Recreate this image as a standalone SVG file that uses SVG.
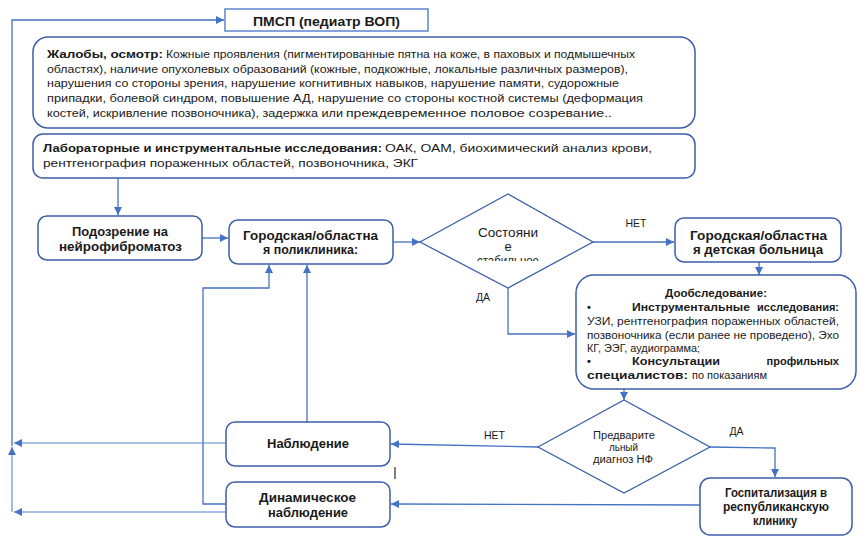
<svg xmlns="http://www.w3.org/2000/svg" width="861" height="548" viewBox="0 0 861 548">
<style>
.box{fill:#fff;stroke:#3D5FA8;stroke-width:1.5}
.c{fill:none;stroke:#4472C4;stroke-width:1.3}
.cl{fill:none;stroke:#8EAADB;stroke-width:1.6}
.t{font-family:"Liberation Sans",Arial,sans-serif;fill:#1a1a1a}
.b{font-weight:bold}
.ttl{font-family:"Liberation Sans",Arial,sans-serif;font-weight:bold;font-size:12.5px;fill:#1a1a1a;text-anchor:middle}
.lab{font-family:"Liberation Sans",Arial,sans-serif;font-size:10.5px;fill:#1a1a1a}
</style>
<defs>
<marker id="ar" markerUnits="userSpaceOnUse" markerWidth="9" markerHeight="8" refX="8" refY="4" orient="auto">
<path d="M0,0 L8,4 L0,8 z" fill="#4472C4"/>
</marker>
<clipPath id="dclip"><rect x="440" y="200" width="140" height="61"/></clipPath>
</defs>

<g id="connectors">
<path class="c" d="M12,446 V20 H224" marker-end="url(#ar)"/>
<path class="cl" d="M12,512 V447" marker-end="url(#ar)"/>
<path class="cl" d="M226,443 H14" marker-end="url(#ar)"/>
<path class="cl" d="M226,512 H14" marker-end="url(#ar)"/>
<path class="c" d="M118,178 V215" marker-end="url(#ar)"/>
<path class="c" d="M202,238 H228" marker-end="url(#ar)"/>
<path class="c" d="M393,242 H420" marker-end="url(#ar)"/>
<path class="c" d="M593,242 H674" marker-end="url(#ar)"/>
<path class="c" d="M508,288 V334 H575" marker-end="url(#ar)"/>
<path class="c" d="M759,262 V275" marker-end="url(#ar)"/>
<path class="c" d="M624,389 V400" marker-end="url(#ar)"/>
<path class="c" d="M538,447 L391,444" marker-end="url(#ar)"/>
<path class="c" d="M710,447 L775,448 V477" marker-end="url(#ar)"/>
<path class="c" d="M700,505 L391,504" marker-end="url(#ar)"/>
<path class="c" d="M307,422 V265" marker-end="url(#ar)"/>
<path class="c" d="M226,504 H203 V288 H269 V265" marker-end="url(#ar)"/>
<line x1="395" y1="467" x2="395" y2="479" stroke="#000" stroke-width="1"/>
</g>

<g id="pmsp">
<rect x="225" y="9" width="203" height="22" fill="#fff" stroke="#4472C4" stroke-width="1.3"/>
<text class="ttl" x="326.5" y="26" font-size="13" textLength="147" lengthAdjust="spacingAndGlyphs">ПМСП (педиатр ВОП)</text>
</g>

<g id="complaints">
<rect class="box" x="33" y="37" width="662" height="91" rx="15"/>
<text class="t b" x="47" y="58" font-size="11" textLength="116" lengthAdjust="spacingAndGlyphs">Жалобы, осмотр:</text>
<text class="t" x="166" y="58" font-size="11" textLength="469" lengthAdjust="spacingAndGlyphs">Кожные проявления (пигментированные пятна на коже, в паховых и подмышечных</text>
<text class="t" x="47" y="72.5" font-size="11" textLength="581" lengthAdjust="spacingAndGlyphs">областях), наличие опухолевых образований (кожные, подкожные, локальные различных размеров),</text>
<text class="t" x="47" y="87" font-size="11" textLength="572" lengthAdjust="spacingAndGlyphs">нарушения со стороны зрения, нарушение когнитивных навыков, нарушение памяти, судорожные</text>
<text class="t" x="47" y="102" font-size="11" textLength="596" lengthAdjust="spacingAndGlyphs">припадки, болевой синдром, повышение АД, нарушение со стороны костной системы (деформация</text>
<text class="t" x="47" y="116.5" font-size="11" textLength="296" lengthAdjust="spacingAndGlyphs">костей, искривление позвоночника), задержка или</text>
<text class="t" x="346" y="116.5" font-size="11.5" textLength="266" lengthAdjust="spacingAndGlyphs">преждевременное половое созревание..</text>
</g>

<g id="lab">
<rect class="box" x="33" y="134" width="662" height="44" rx="10"/>
<text class="t b" x="43" y="152" font-size="11.5" textLength="339" lengthAdjust="spacingAndGlyphs">Лабораторные и инструментальные исследования:</text>
<text class="t" x="385" y="152" font-size="11.5" textLength="267" lengthAdjust="spacingAndGlyphs">ОАК, ОАМ, биохимический анализ крови,</text>
<text class="t" x="43" y="167" font-size="11.5" textLength="375" lengthAdjust="spacingAndGlyphs">рентгенография пораженных областей, позвоночника, ЭКГ</text>
</g>

<g id="suspicion">
<rect class="box" x="38" y="216" width="164" height="44" rx="9"/>
<text class="ttl" x="120" y="236" textLength="96" lengthAdjust="spacingAndGlyphs">Подозрение на</text>
<text class="ttl" x="120.5" y="251" textLength="123" lengthAdjust="spacingAndGlyphs">нейрофиброматоз</text>
</g>

<g id="polyclinic">
<rect class="box" x="229" y="220" width="164" height="44" rx="9"/>
<text class="ttl" x="310.5" y="240" textLength="135" lengthAdjust="spacingAndGlyphs">Городская/областна</text>
<text class="ttl" x="310.5" y="254" textLength="95" lengthAdjust="spacingAndGlyphs">я поликлиника:</text>
</g>

<g id="decision-state">
<polygon points="420,242 508,194 593,242 508,288" fill="#fff" stroke="#3D5FA8" stroke-width="1.3"/>
<text class="t" x="508" y="237" font-size="13" text-anchor="middle" fill="#333" textLength="60" lengthAdjust="spacingAndGlyphs">Состояни</text>
<text class="t" x="508" y="251" font-size="13" text-anchor="middle" fill="#333">е</text>
<text class="t" x="508" y="265" font-size="13" text-anchor="middle" fill="#333" clip-path="url(#dclip)" textLength="62" lengthAdjust="spacingAndGlyphs">стабильное</text>
</g>

<g id="labels">
<text class="lab" x="636" y="227" text-anchor="middle">НЕТ</text>
<text class="lab" x="483" y="301" text-anchor="middle">ДА</text>
<text class="lab" x="494.5" y="439" text-anchor="middle">НЕТ</text>
<text class="lab" x="736.5" y="435" text-anchor="middle">ДА</text>
</g>

<g id="hospital">
<rect class="box" x="675" y="218" width="166" height="44" rx="9"/>
<text class="ttl" x="758.5" y="240" textLength="137" lengthAdjust="spacingAndGlyphs">Городская/областна</text>
<text class="ttl" x="758" y="254" textLength="130" lengthAdjust="spacingAndGlyphs">я детская больница</text>
</g>

<g id="extra-exam">
<rect class="box" x="576" y="275" width="280" height="114" rx="18"/>
<text class="t b" x="716" y="297" font-size="11" text-anchor="middle" textLength="102" lengthAdjust="spacingAndGlyphs">Дообследование:</text>
<text class="t b" x="587" y="311" font-size="11">•</text>
<text class="t b" x="632" y="311" font-size="11" textLength="118" lengthAdjust="spacingAndGlyphs">Инструментальные</text>
<text class="t b" x="839" y="311" font-size="11" text-anchor="end">исследования:</text>
<text class="t" x="587" y="325" font-size="10" textLength="252" lengthAdjust="spacingAndGlyphs">УЗИ, рентгенография пораженных областей,</text>
<text class="t" x="587" y="338.5" font-size="10" textLength="252" lengthAdjust="spacingAndGlyphs">позвоночника (если ранее не проведено), Эхо</text>
<text class="t" x="587" y="352" font-size="10" textLength="113" lengthAdjust="spacingAndGlyphs">КГ, ЭЭГ, аудиограмма;</text>
<text class="t b" x="587" y="365" font-size="11">•</text>
<text class="t b" x="632" y="365" font-size="11" textLength="88" lengthAdjust="spacingAndGlyphs">Консультации</text>
<text class="t b" x="839" y="365" font-size="11" text-anchor="end">профильных</text>
<text class="t b" x="587" y="379" font-size="11" textLength="101" lengthAdjust="spacingAndGlyphs">специалистов:</text>
<text class="t" x="692" y="379" font-size="10" textLength="75" lengthAdjust="spacingAndGlyphs">по показаниям</text>
</g>

<g id="decision-diagnosis">
<polygon points="538,447 624,400 710,447 624,493" fill="#fff" stroke="#3D5FA8" stroke-width="1.3"/>
<text class="t" x="624" y="439" font-size="10" text-anchor="middle" textLength="62" lengthAdjust="spacingAndGlyphs">Предварите</text>
<text class="t" x="623.5" y="451" font-size="10" text-anchor="middle" textLength="29" lengthAdjust="spacingAndGlyphs">льный</text>
<text class="t" x="623" y="463" font-size="10" text-anchor="middle" textLength="60" lengthAdjust="spacingAndGlyphs">диагноз НФ</text>
</g>

<g id="observation">
<rect class="box" x="226" y="422" width="164" height="44" rx="9"/>
<text class="ttl" x="308" y="448" textLength="82" lengthAdjust="spacingAndGlyphs">Наблюдение</text>
</g>

<g id="dynamic-observation">
<rect class="box" x="226" y="482" width="164" height="45" rx="9"/>
<text class="ttl" x="307.5" y="502" textLength="97" lengthAdjust="spacingAndGlyphs">Динамическое</text>
<text class="ttl" x="308" y="517" textLength="80" lengthAdjust="spacingAndGlyphs">наблюдение</text>
</g>

<g id="hospitalization">
<rect class="box" x="700" y="478" width="152" height="57" rx="10"/>
<text class="ttl" x="776" y="497" textLength="102" lengthAdjust="spacingAndGlyphs">Госпитализация в</text>
<text class="ttl" x="776" y="511" textLength="106" lengthAdjust="spacingAndGlyphs">республиканскую</text>
<text class="ttl" x="775" y="525" textLength="44" lengthAdjust="spacingAndGlyphs">клинику</text>
</g>
</svg>
